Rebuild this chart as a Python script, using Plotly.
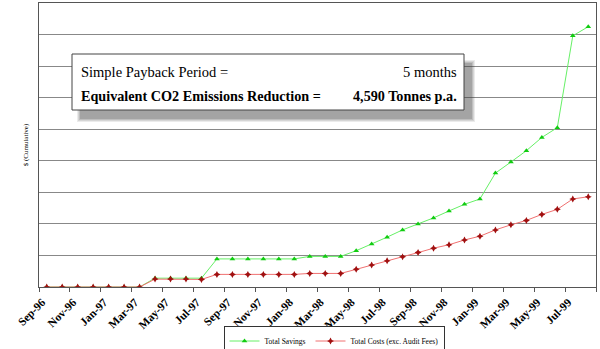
import plotly.graph_objects as go

months = ["Sep-96","Oct-96","Nov-96","Dec-96","Jan-97","Feb-97","Mar-97","Apr-97","May-97","Jun-97",
          "Jul-97","Aug-97","Sep-97","Oct-97","Nov-97","Dec-97","Jan-98","Feb-98","Mar-98","Apr-98",
          "May-98","Jun-98","Jul-98","Aug-98","Sep-98","Oct-98","Nov-98","Dec-98","Jan-99","Feb-99",
          "Mar-99","Apr-99","May-99","Jun-99","Jul-99","Aug-99"]

savings = [0, 0, 0, 0, 0, 0, 0, 0.28, 0.28, 0.28,
           0.28, 0.89, 0.89, 0.89, 0.89, 0.89, 0.89, 0.97, 0.97, 0.97,
           1.15, 1.36, 1.58, 1.81, 2.00, 2.19, 2.41, 2.62, 2.79, 3.61,
           3.96, 4.32, 4.74, 5.05, 7.96, 8.25]

costs = [0, 0, 0, 0, 0, 0, 0, 0.25, 0.25, 0.25,
         0.24, 0.40, 0.40, 0.40, 0.40, 0.40, 0.40, 0.43, 0.43, 0.43,
         0.56, 0.70, 0.83, 0.96, 1.09, 1.23, 1.34, 1.49, 1.61, 1.81,
         1.97, 2.11, 2.30, 2.46, 2.79, 2.86]

tick_labels = months[::2]

serif = "Liberation Serif"

idx = list(range(len(months)))
label_idx = [i for i in idx if i % 2 == 0]

fig = go.Figure()
fig.add_trace(go.Scatter(x=idx, y=savings, name="Total Savings", mode="lines+markers",
                         text=months, hovertemplate="%{text}: %{y}<extra></extra>",
                         line=dict(color="#66f066", width=1),
                         marker=dict(symbol="triangle-up", size=5, color="#11cc11")))
fig.add_trace(go.Scatter(x=idx, y=costs, name="Total Costs (exc. Audit Fees)", mode="lines+markers",
                         text=months, hovertemplate="%{text}: %{y}<extra></extra>",
                         line=dict(color="#f07070", width=1),
                         marker=dict(symbol="star-diamond", size=5, color="#a01010")))

def px2x(p):
    return (p - 39) / 557
def px2y(p):
    return (287 - p) / 284

shapes = []
for i, op in enumerate([0.10, 0.12, 0.15, 0.2]):
    d = 3 - i
    shapes.append(dict(type="rect", xref="paper", yref="paper",
                       x0=px2x(72 + 8 - d), x1=px2x(464 + 8 + d),
                       y0=px2y(110 + 9 + d), y1=px2y(54 + 9 - d),
                       fillcolor=f"rgba(60,60,60,{op})", line=dict(width=0), layer="above"))
shapes.append(dict(type="rect", xref="paper", yref="paper",
                   x0=px2x(72), x1=px2x(464), y0=px2y(110), y1=px2y(54),
                   fillcolor="white", line=dict(color="#444444", width=1), layer="above"))

afont = dict(family=serif, size=14.5, color="black")
bfont = dict(family=serif, size=14.2, color="black")
annotations = [
    dict(xref="paper", yref="paper", x=px2x(79), y=px2y(72), text="Simple Payback Period =",
         showarrow=False, xanchor="left", yanchor="middle", font=afont),
    dict(xref="paper", yref="paper", x=px2x(459), y=px2y(72), text="5 months",
         showarrow=False, xanchor="right", yanchor="middle", font=afont),
    dict(xref="paper", yref="paper", x=px2x(79), y=px2y(96), text="<b>Equivalent CO2 Emissions Reduction =</b>",
         showarrow=False, xanchor="left", yanchor="middle", font=bfont),
    dict(xref="paper", yref="paper", x=px2x(459), y=px2y(96), text="<b>4,590 Tonnes p.a.</b>",
         showarrow=False, xanchor="right", yanchor="middle", font=bfont),
]

fig.update_layout(
    width=600, height=349,
    margin=dict(l=39, r=4, t=3, b=62),
    paper_bgcolor="white", plot_bgcolor="white",
    font=dict(family=serif),
    shapes=shapes, annotations=annotations,
    showlegend=True,
    legend=dict(orientation="h", x=(334 / 600), xanchor="center", xref="container",
                y=1 - 341 / 349, yanchor="middle", yref="container",
                bordercolor="#333333", borderwidth=1, bgcolor="white",
                font=dict(family=serif, size=7.5, color="black"),
                itemwidth=30, tracegroupgap=0),
    xaxis=dict(tickmode="array", tickvals=[i - 0.3 for i in label_idx],
               ticktext=["<b>" + t + "</b>" for t in tick_labels],
               tickangle=-45, ticks="", ticklabelstandoff=3,
               minor=dict(tickmode="array", tickvals=[i - 0.5 for i in label_idx] + [35.5],
                          ticks="outside", ticklen=4, tickcolor="#555555", showgrid=False),
               tickfont=dict(family=serif, size=11.5, color="black"), automargin=False,
               showgrid=False, showline=True, linecolor="#555555", linewidth=1, mirror=True,
               range=[-0.5, 35.5], zeroline=False),
    yaxis=dict(range=[0, 9], dtick=1, showticklabels=False, showgrid=True, gridcolor="#888888",
               gridwidth=1, showline=True, linecolor="#555555", linewidth=1, mirror=True,
               zeroline=False, ticks="", automargin=False,
               title=dict(text="$ (Cumulative)", font=dict(family=serif, size=7, color="black"), standoff=8)),
)

fig.write_html("out.html")
